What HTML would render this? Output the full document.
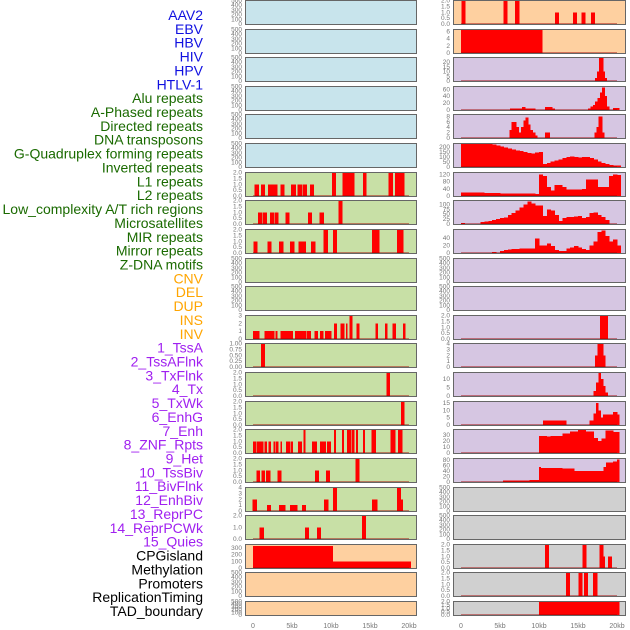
<!DOCTYPE html>
<html><head><meta charset="utf-8"><style>
html,body{margin:0;padding:0;background:#fff;}
svg{display:block;font-family:"Liberation Sans",sans-serif;}
</style></head><body>
<svg id="chart" width="630" height="630" viewBox="0 0 630 630" xmlns="http://www.w3.org/2000/svg">
<g id="labels" font-size="14" text-anchor="end"></g>
<g id="panels"></g>
<g id="xaxes" font-size="7" fill="#777" text-anchor="middle"></g>
</svg>
<script>
const labelNames = ["AAV2","EBV","HBV","HIV","HPV","HTLV-1","Alu repeats","A-Phased repeats","Directed repeats","DNA transposons","G-Quadruplex forming repeats","Inverted repeats","L1 repeats","L2 repeats","Low_complexity A/T rich regions","Microsatellites","MIR repeats","Mirror repeats","Z-DNA motifs","CNV","DEL","DUP","INS","INV","1_TssA","2_TssAFlnk","3_TxFlnk","4_Tx","5_TxWk","6_EnhG","7_Enh","8_ZNF_Rpts","9_Het","10_TssBiv","11_BivFlnk","12_EnhBiv","13_ReprPC","14_ReprPCWk","15_Quies","CPGisland","Methylation","Promoters","ReplicationTiming","TAD_boundary"];
const labelGroupCounts = [6,13,5,15,5];
const labelGroupColors = ["#1010e0","#1a6a00","#ffa500","#a020f0","#000000"];
const xTickValues = [0,5,10,15,20];
const xTickLabels = ["0","5kb","10kb","15kb","20kb"];

const r0R = [[0.3,2],[5.7,2],[7.2,2],[12.3,1],[14.6,1],[15.7,1],[16.9,1]];
const r1R = [[0,10.4,6.5]];
const r2R = [[17.2,17.45,3],[17.45,17.7,10],[17.7,18.2,25],[18.2,18.45,10],[18.45,18.7,3]];
const r3R = [[6.3,7.8,5],[7.8,8.2,8],[8.2,9.5,5],[10.8,11.7,8],[11.7,12,5],[16.3,16.6,5],[16.6,16.9,10],[16.9,17.2,15],[17.2,17.5,25],[17.5,17.8,35],[17.8,18.1,50],[18.1,18.4,65],[18.4,18.7,40],[18.7,19,10],[19.5,20.3,6]];
const r4R = [[6.2,6.5,3],[6.5,6.8,6],[6.8,7.1,6],[7.1,7.4,4],[7.4,7.7,2],[7.7,8,4],[8,8.3,6.5],[8.3,8.6,7.5],[8.6,8.9,5],[8.9,9.2,3],[9.2,9.5,2],[9.5,9.8,1],[10.8,11.4,2],[17.1,17.35,2],[17.35,17.6,4],[17.6,18.1,8],[18.1,18.35,2]];
const r5Rvals = [230,230,230,230,228,228,228,228,225,215,205,195,185,175,165,158,150,140,135,145,150,30,40,55,65,75,90,100,105,100,95,100,100,90,75,55,40,30,20,15,15];
const r6L = [[0.2,0.7,1],[1.0,1.5,1],[1.9,3.1,1],[3.5,4.0,1],[4.9,5.5,1],[5.7,6.3,1],[6.4,6.9,1],[7.3,7.8,1],[10.1,10.6,2],[11.5,13.0,2],[14.1,14.5,2],[17.4,17.9,2],[18.2,19.4,2]];
const r6Rvals = [20,20,20,20,18,18,16,16,17,17,15,15,14,14,14,14,13,13,14,12,120,110,50,30,60,60,50,35,35,35,35,40,90,92,90,50,50,50,110,120,115];
const r7L = [[0.9,1],[1.5,1],[2.4,1],[3.0,1],[4.4,1],[7.3,1],[8.8,1],[11.2,2]];
const r7Rvals = [5,0,0,0,0,10,12,15,20,25,30,32,45,55,70,85,100,115,105,95,95,40,75,70,45,15,30,35,35,38,40,30,35,55,60,45,35,20,0];
const r8L = [[0.3,1],[2.1,1],[3.6,1],[5.0,1],[6.1,1],[6.5,1],[7.7,1],[9.3,2],[10.5,2],[15.5,2],[15.9,2],[18.7,2],[19.0,2]];
const r8Rvals = [0,0,0,0,0,0,0,0,3,0,5,8,9,10,10,12,12,12,12,38,20,20,25,18,8,5,5,12,15,18,15,10,8,20,30,55,60,45,30,35,20];
const r11L = [[0,0.8,1],[1.5,2.7,1],[2.9,3.1,1],[3.5,5.1,1],[5.4,6.8,1],[6.9,7.4,1],[7.9,8.3,1],[8.6,9.0,1],[9.2,9.6,1],[9.6,10.0,1],[10.4,10.7,2],[11.2,11.7,2],[11.9,12.1,2],[12.4,12.7,3],[13.3,13.6,2],[15.7,16.0,2],[16.9,17.2,2],[17.9,18.3,2],[19.2,19.5,2]];
const r11R = [[17.8,18.8,2]];
const r12L = [[1.0,1.5,1]];
const r12R = [[17.2,17.5,2],[17.5,18.2,4],[18.2,18.5,2]];
const r13L = [[17.1,17.5,2]];
const r13R = [[17.0,17.3,3],[17.3,17.6,8],[17.6,17.9,14],[17.9,18.2,10],[18.2,18.5,6],[18.5,18.8,2]];
const r14L = [[19.0,19.4,2]];
const r14R = [[10.5,13.5,3],[16.5,17,3],[17,17.3,8],[17.3,17.6,15],[17.6,17.9,10],[17.9,18.2,5],[18.2,19.5,7],[19.5,20,9],[20,20.3,7]];
const r15L = [[0,0.4,1],[0.5,1.3,1],[1.45,1.75,1],[2.0,2.3,1],[2.6,2.85,1],[2.95,3.2,1],[3.5,3.7,1],[4.25,4.75,1],[4.9,5.1,1],[5.75,6.25,1],[6.45,6.7,2],[7.55,8.15,1],[8.6,9.35,1],[9.5,9.95,1],[10.4,10.6,2],[11.4,11.6,2],[12.05,12.6,2],[12.7,12.95,2],[13.2,13.4,2],[14.1,14.3,2],[15.2,15.7,2],[17.6,18.2,2],[18.6,19.1,2]];
const r15R = [[10,11,28],[11,11.5,27],[11.5,13,28],[13,14,32],[14,15,36],[15,16,38],[16,17,36],[17,17.5,25],[17.5,18,20],[18,18.5,24],[18.5,19.5,37],[19.5,20.3,35]];
const r16L = [[0.45,0.85,1],[1.1,1.5,1],[1.65,2.2,1],[3.15,3.6,1],[7.95,8.45,1],[9.35,9.85,1],[13.15,13.6,2]];
const r16R = [[5.4,8.8,5],[8.8,10,8],[10,10.2,55],[10.2,13,50],[13,14.5,48],[14.5,17.9,40],[17.9,18.3,40],[18.3,18.6,55],[18.6,19.5,70],[19.5,20,75],[20,20.3,82]];
const r17L = [[0.2,2],[2.05,1],[3.6,1],[3.9,1],[5.0,1],[5.4,1],[6.5,1],[9.36,2],[10.5,4],[15.5,2],[15.7,2],[18.7,4],[18.95,2]];
const r18L = [[1.1,1],[6.9,1],[8.46,1],[14.2,2]];
const r19L = [[0,10.2,330],[10.2,20.2,95]];
const r19R = [[11.0,2],[15.8,2],[18.0,2],[18.2,1],[19.1,1]];
const r20R = [[13.7,2],[15.3,2],[16.0,2],[17.2,2]];
const r21R = [[10,20.3,2]];

const emptyTicks = [0,100,200,300,400,500];
const ticksHalf = [0,0.5,1,1.5,2];

function binsToSegs(vals,start,step){const s=[];for(let i=0;i<vals.length;i++){s.push([start+i*step,start+(i+1)*step,vals[i]]);}return s;}
function spikesToSegs(sp){return sp.map(p=>[p[0]-0.25,p[0]+0.25,p[1]]);}

const leftColors = ["#c8e4ec","#c8e4ec","#c8e4ec","#c8e4ec","#c8e4ec","#c8e4ec","#c8e0a6","#c8e0a6","#c8e0a6","#c8e0a6","#c8e0a6","#c8e0a6","#c8e0a6","#c8e0a6","#c8e0a6","#c8e0a6","#c8e0a6","#c8e0a6","#c8e0a6","#fed0a0","#fed0a0","#fed0a0"];
const rightColors = ["#fed0a0","#fed0a0","#d6c6e2","#d6c6e2","#d6c6e2","#d6c6e2","#d6c6e2","#d6c6e2","#d6c6e2","#d6c6e2","#d6c6e2","#d6c6e2","#d6c6e2","#d6c6e2","#d6c6e2","#d6c6e2","#d6c6e2","#d0d0d0","#d0d0d0","#d0d0d0","#d0d0d0","#d0d0d0"];

const L=null;
const leftPanels = [L,L,L,L,L,L,
 {d:r6L,ymax:2,t:ticksHalf,dec:1},{d:spikesToSegs(r7L),ymax:2,t:ticksHalf,dec:1},{d:spikesToSegs(r8L),ymax:2,t:ticksHalf,dec:1},L,L,
 {d:r11L,ymax:3,t:[0,1,2,3],dec:0},{d:r12L,ymax:1,t:[0,0.25,0.5,0.75,1],dec:2},{d:r13L,ymax:2,t:ticksHalf,dec:1},{d:r14L,ymax:2,t:ticksHalf,dec:1},
 {d:r15L,ymax:2,t:ticksHalf,dec:1},{d:r16L,ymax:2,t:ticksHalf,dec:1},{d:spikesToSegs(r17L),ymax:4,t:[0,1,2,3,4],dec:0},{d:spikesToSegs(r18L),ymax:2,t:[0,1,2],dec:1},
 {d:r19L,ymax:350,t:[0,100,200,300],dec:0},L,L];
const rightPanels = [{d:spikesToSegs(r0R),ymax:2,t:ticksHalf,dec:1},{d:r1R,ymax:6.5,t:[0,2,4,6],dec:0},{d:r2R,ymax:25,t:[0,5,10,15,20],dec:0},{d:r3R,ymax:68,t:[0,20,40,60],dec:0},{d:r4R,ymax:8.7,t:[0,2,4,6,8],dec:0},{d:binsToSegs(r5Rvals,0,0.5),ymax:235,t:[0,50,100,150,200],dec:0},
 {d:binsToSegs(r6Rvals,0,0.5),ymax:130,t:[0,40,80,120],dec:0},{d:binsToSegs(r7Rvals,0,0.5),ymax:120,t:[0,25,50,75,100],dec:0},{d:binsToSegs(r8Rvals,0,0.5),ymax:62,t:[0,20,40],dec:0},L,L,
 {d:r11R,ymax:2,t:ticksHalf,dec:1},{d:r12R,ymax:4,t:[0,1,2,3,4],dec:0},{d:r13R,ymax:14,t:[0,5,10],dec:0},{d:r14R,ymax:16,t:[0,5,10,15],dec:0},
 {d:r15R,ymax:39,t:[0,10,20,30],dec:0},{d:r16R,ymax:85,t:[0,20,40,60,80],dec:0},L,L,
 {d:spikesToSegs(r19R),ymax:2,t:ticksHalf,dec:1},{d:spikesToSegs(r20R),ymax:2,t:ticksHalf,dec:1},{d:r21R,ymax:2,t:ticksHalf,dec:1}];

const NS="http://www.w3.org/2000/svg";
function mk(tag,attrs,parent){const e=document.createElementNS(NS,tag);for(const k in attrs)e.setAttribute(k,attrs[k]);parent.appendChild(e);return e;}

const lg=document.getElementById('labels');
let li=0;
labelGroupCounts.forEach((c,gi)=>{for(let k=0;k<c;k++){
 const t=mk('text',{x:203,y:15+li*13.86+5,fill:labelGroupColors[gi]},lg);
 
 
 t.textContent=labelNames[li];li++;}});

const pg=document.getElementById('panels');
function rowTop(i){return Math.round(i*28.62);}
function rowH(i){return i===21?15:25;}
function drawPanel(i,side,p,color){
 const x0=side===0?245:453, w=side===0?172:173, zero=side===0?253:461, k=7.8;
 const top=rowTop(i), h=rowH(i), bottom=top+h;
 const g=mk('g',{},pg);
 
 
 mk('rect',{x:x0,y:top,width:w,height:h,fill:color},g);
 const ymax=p?p.ymax:500, ticks=p?p.t:emptyTicks, dec=p?p.dec:0;
 const ys=v=>bottom-1-v/ymax*(h-1.5);
 const xs=v=>zero+v*k;
 ticks.forEach(v=>{const t=mk('text',{x:x0-3,y:ys(v)+2,'font-size':6.5,fill:'#777','text-anchor':'end'},g);
  
  
  t.textContent=v.toFixed(dec);});
 if(p){
  p.d.forEach(s=>{const r=mk('rect',{x:xs(s[0]),y:ys(s[2]),width:Math.max(0.8,xs(s[1])-xs(s[0]))+0.3,height:bottom-1-ys(s[2]),fill:'#ff0000','shape-rendering':'crispEdges'},g);
   
   });
  const bl=mk('rect',{x:xs(0),y:bottom-2,width:20*k,height:1.5,fill:'rgba(160,0,0,0.45)'},g);
  
  
 }
 mk('rect',{x:x0+0.5,y:top+0.5,width:w-1,height:h-1,fill:'none',stroke:'#666',"stroke-width":1},g);
}
for(let i=0;i<22;i++){drawPanel(i,0,leftPanels[i],leftColors[i]);drawPanel(i,1,rightPanels[i],rightColors[i]);}

const xg=document.getElementById('xaxes');
[253,461].forEach(z=>{xTickValues.forEach((v,j)=>{const t=mk('text',{x:z+v*7.8,y:628},xg);
 
 
 t.textContent=xTickLabels[j];});});
</script>
</body></html>
